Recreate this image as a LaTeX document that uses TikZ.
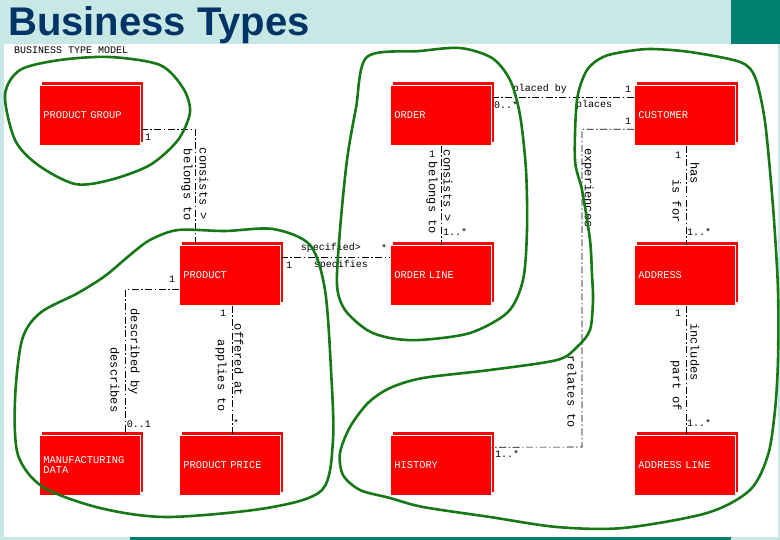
\documentclass[tikz,border=0pt]{standalone}
\usepackage{fontspec}
\setmainfont{Liberation Sans}
\newfontfamily\diafont[WordSpace={1,0,0}]{Liberation Mono}
\usetikzlibrary{shadows}
\definecolor{bandcyan}{RGB}{200,232,230}
\definecolor{bandteal}{RGB}{0,128,112}
\definecolor{titleblue}{RGB}{0,51,102}
\definecolor{markgreen}{RGB}{22,120,22}
\definecolor{boxred}{RGB}{255,0,0}
\begin{document}
\begin{tikzpicture}[x=1pt,y=-1pt,
  entity/.style={anchor=north west,fill=boxred,draw=white,line width=.6pt,
    text=white,font=\diafont\fontsize{10.4}{10}\selectfont,
    minimum height=60pt,text width=93pt,inner xsep=4pt,align=left,
    general shadow={fill=boxred,shadow xshift=3pt,shadow yshift=3pt}},
  rel/.style={draw=black,line width=.6pt,dash pattern=on 7pt off 2.5pt on 1.5pt off 2.5pt},
  lbl/.style={font=\diafont\fontsize{10}{10}\selectfont,inner sep=0pt},
  vlbl/.style={font=\diafont\fontsize{12}{12}\selectfont,inner sep=0pt,rotate=-90},
  hand/.style={draw=markgreen,line width=2.6pt}]
  % page
  \fill[bandcyan] (0,0) rectangle (780,540);
  \fill[white] (4,44) rectangle (778,537);
  \fill[bandteal] (731,0) rectangle (780,44);
  \fill[bandteal] (130,537) rectangle (731,540);
  \useasboundingbox (0,0) rectangle (780,540);
  \node[anchor=base west,font=\bfseries\fontsize{40}{40}\selectfont,text=titleblue,inner sep=0pt] (title) at (8,35.5) {Business Types};
  \node[lbl,anchor=west] (model) at (14,50) {BUSINESS TYPE MODEL};
  % entities
  \node[entity] (pgroup) at (39,85) {PRODUCT GROUP};
  \node[entity] (order) at (390,85) {ORDER};
  \node[entity] (customer) at (634,85) {CUSTOMER};
  \node[entity] (product) at (179,245) {PRODUCT};
  \node[entity] (oline) at (390,245) {ORDER LINE};
  \node[entity] (address) at (634,245) {ADDRESS};
  \node[entity] (mdata) at (39,435) {MANUFACTURING\\DATA};
  \node[entity] (pprice) at (179,435) {PRODUCT PRICE};
  \node[entity] (history) at (390,435) {HISTORY};
  \node[entity] (aline) at (634,435) {ADDRESS LINE};
  \coordinate (hbend) at (582,447);
  % relations
  \draw[rel] ([yshift=-14pt]pgroup.east) -| ([xshift=-34.5pt]product.north);
  \draw[rel] ([yshift=18pt]product.east) -- ([yshift=18pt]oline.west);
  \draw[rel] ([yshift=-14pt]product.west) -| ([xshift=35.5pt]mdata.north);
  \draw[rel] ([xshift=2.5pt]product.south) -- ([xshift=2.5pt]pprice.north);
  \draw[rel] (order.south) -- (oline.north);
  \draw[rel] ([yshift=18pt]order.east) -- ([yshift=18pt]customer.west);
  \draw[rel] ([yshift=-14pt]customer.west) -| (hbend) -- ([yshift=18pt]history.east);
  \draw[rel] ([xshift=1.5pt]customer.south) -- ([xshift=1.5pt]address.north);
  \draw[rel] ([xshift=1.5pt]address.south) -- ([xshift=1.5pt]aline.north);
  % multiplicities
  \node[lbl] at (148,137) {1};
  \node[lbl] at (384,248) {*};
  \node[lbl] at (289,265) {1};
  \node[lbl] at (172,279) {1};
  \node[lbl] at (139,424) {0..1};
  \node[lbl] at (223,313) {1};
  \node[lbl] at (236,423) {*};
  \node[lbl] at (432,154) {1};
  \node[lbl] at (455,232) {1..*};
  \node[lbl] at (506,105) {0..*};
  \node[lbl] at (628,89) {1};
  \node[lbl] at (628,121) {1};
  \node[lbl] at (507,454) {1..*};
  \node[lbl] at (678,155) {1};
  \node[lbl] at (699,232) {1..*};
  \node[lbl] at (678,313) {1};
  \node[lbl] at (699,423) {1..*};
  % roles
  \node[vlbl] at (187,185) {belongs to};
  \node[vlbl] at (204,184) {consists >};
  \node[lbl] at (331,248) {specified>};
  \node[lbl] at (341,265) {specifies};
  \node[vlbl] at (134,352) {described by};
  \node[vlbl] at (115,380) {describes};
  \node[vlbl] at (221,376) {applies to};
  \node[vlbl] at (239,360) {offered at};
  \node[vlbl] at (432,198) {belongs to};
  \node[vlbl] at (448,186) {consists >};
  \node[lbl] at (540,89) {placed by};
  \node[lbl] at (594,105) {places};
  \node[vlbl] at (588,188) {experiences};
  \node[vlbl] at (572,392) {relates to};
  \node[vlbl] at (677,201) {is for};
  \node[vlbl] at (695,173) {has};
  \node[vlbl] at (695,352) {includes};
  \node[vlbl] at (676,386) {part of};
  % hand drawn groupings
  \draw[hand] plot[smooth cycle] coordinates {(5,95) (20,70) (60,60) (110,57) (160,65) (183,88) (190,112) (178,140) (150,165) (110,180) (75,184) (38,165) (15,140)};
  \draw[hand] plot[smooth cycle] coordinates {(367,57) (420,51) (460,48) (492,58) (510,80) (520,115) (526,170) (527,230) (523,280) (508,312) (470,333) (420,340) (390,338) (367,330) (345,310) (337,285) (340,230) (347,160) (356,108)};
  \draw[hand] plot[smooth cycle] coordinates {(150,240) (178,230) (225,231) (273,229) (310,245) (325,290) (331,370) (333,440) (322,490) (267,508) (167,517) (100,508) (43,487) (18,455) (15,400) (22,340) (40,313) (78,293) (105,276) (130,255)};
  \draw[hand] plot[smooth cycle] coordinates {(575,160) (577,100) (587,70) (603,57) (623,52) (650,49) (690,52) (740,62) (755,77) (764,115) (769,160) (774,220) (778,290) (778,360) (775,410) (768,455) (750,490) (707,513) (623,528) (557,527) (490,517) (423,507) (390,498) (360,490) (343,475) (340,453) (350,427) (368,403) (390,388) (423,378) (490,370) (557,360) (577,347) (590,330) (593,300) (592,275) (590,240) (582,190)};
\end{tikzpicture}
\end{document}
